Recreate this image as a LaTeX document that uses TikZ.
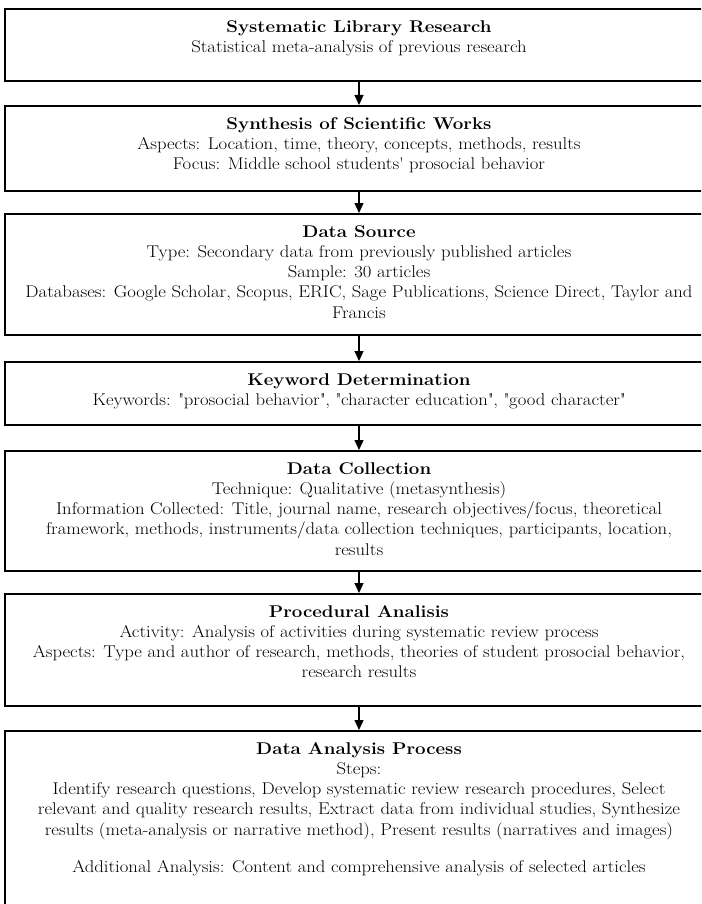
\documentclass[tikz,border=0pt]{standalone}
\usepackage{fontspec}
\setmainfont{Latin Modern Roman}[FakeStretch=1.1]
\usetikzlibrary{arrows.meta}

% fixed-height, top-aligned, centred text block for one stage box
\newcommand{\stagetext}[2]{\parbox[t][#1][t]{690pt}{\centering\vspace*{9pt}\strut#2}}
\newcommand{\sq}{\textquotesingle}
\newcommand{\dq}{\textquotedbl}

\tikzset{
  stagebox/.style={draw, line width=1.6pt, inner xsep=9pt, inner ysep=0pt,
    anchor=north, font=\fontsize{17}{20.3}\selectfont},
  flow/.style={line width=1.2pt, -{Triangle[length=10pt,width=9pt]}}
}

\begin{document}
\begin{tikzpicture}[x=1pt,y=-1pt]
\useasboundingbox (0,0) rectangle (701,904);
\fill[white] (0,0) rectangle (701,904);
\clip (0,0) rectangle (701,904);

\node[stagebox] (s1) at (359,8) {\stagetext{72pt}{%
  \textbf{Systematic Library Research}\\
  Statistical meta-analysis of previous research}};

\node[stagebox] (s2) at (359,105) {\stagetext{85pt}{%
  \textbf{Synthesis of Scientific Works}\\
  Aspects: Location, time, theory, concepts, methods, results\\
  Focus: Middle school students\sq{} prosocial behavior}};

\node[stagebox] (s3) at (359,213) {\stagetext{121pt}{%
  \textbf{Data Source}\\
  Type: Secondary data from previously published articles\\
  Sample: 30 articles\\
  Databases: Google Scholar, Scopus, ERIC, Sage Publications, Science Direct, Taylor and\\
  Francis}};

\node[stagebox] (s4) at (359,361) {\stagetext{63pt}{%
  \textbf{Keyword Determination}\\
  Keywords: \dq{}prosocial behavior\dq{}, \dq{}character education\dq{}, \dq{}good character\dq{}}};

\node[stagebox] (s5) at (359,450) {\stagetext{120pt}{%
  \textbf{Data Collection}\\
  Technique: Qualitative (metasynthesis)\\
  Information Collected: Title, journal name, research objectives/focus, theoretical\\
  framework, methods, instruments/data collection techniques, participants, location,\\
  results}};

\node[stagebox] (s6) at (359,593) {\stagetext{112pt}{%
  \textbf{Procedural Analisis}\\
  Activity: Analysis of activities during systematic review process\\
  Aspects: Type and author of research, methods, theories of student prosocial behavior,\\
  research results}};

\node[stagebox] (s7) at (359,730) {\stagetext{200pt}{%
  \textbf{Data Analysis Process}\\
  Steps:\\
  Identify research questions, Develop systematic review research procedures, Select\\
  relevant and quality research results, Extract data from individual studies, Synthesize\\
  results (meta-analysis or narrative method), Present results (narratives and images)\\[17pt]
  Additional Analysis: Content and comprehensive analysis of selected articles}};

\draw[flow] (s1) -- (s2);
\draw[flow] (s2) -- (s3);
\draw[flow] (s3) -- (s4);
\draw[flow] (s4) -- (s5);
\draw[flow] (s5) -- (s6);
\draw[flow] (s6) -- (s7);
\end{tikzpicture}
\end{document}
